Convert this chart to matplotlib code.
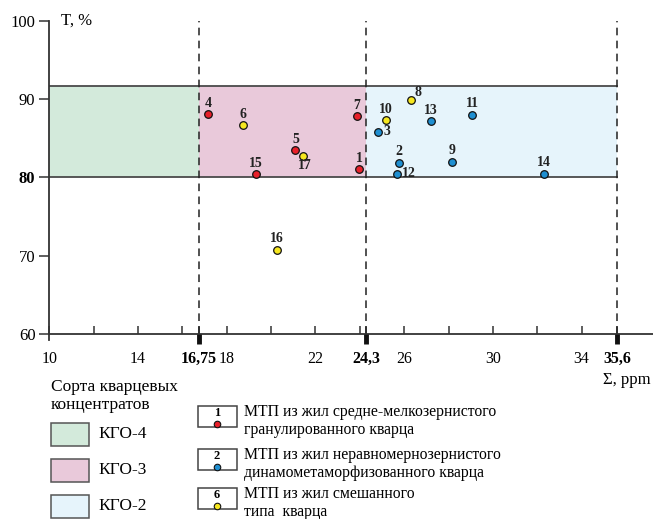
import matplotlib.pyplot as plt
from matplotlib.patches import Rectangle

plt.rcParams["font.family"] = ["Liberation Serif", "DejaVu Serif"]

# === Data ===
sample_ids = [1, 2, 3, 4, 5, 6, 7, 8, 9, 10, 11, 12, 13, 14, 15, 16, 17]
sum_ppm = [23.97, 25.76, 24.80, 17.15, 21.10, 18.75, 23.88, 26.32, 28.16, 25.18,
           29.08, 25.67, 27.20, 32.31, 19.30, 20.28, 21.45]
t_pct = [81.1, 81.9, 85.8, 88.1, 83.5, 86.7, 87.8, 89.9, 82.0, 87.3,
         88.0, 80.5, 87.2, 80.5, 80.4, 70.8, 82.8]
vein_type = ["r", "b", "b", "r", "r", "y", "r", "y", "b", "y",
             "b", "b", "b", "b", "r", "y", "y"]

# grade boundaries
bounds = [10, 16.75, 24.3, 35.6]
band_low, band_high = 80, 91.7
grade_names = ["КГО-4", "КГО-3", "КГО-2"]
grade_colors = ["#d3eadb", "#e9c9da", "#e6f4fb"]

type_colors = {"r": "#e8202a", "b": "#1f8fd1", "y": "#f6e71f"}
type_labels = [
    ("1", "r", "МТП из жил средне-мелкозернистого\nгранулированного кварца"),
    ("2", "b", "МТП из жил неравномернозернистого\nдинамометаморфизованного кварца"),
    ("6", "y", "МТП из жил смешанного\nтипа  кварца"),
]

# label offsets in points (dx, dy, ha)
label_pos = {3: (4, 0, "left"), 12: (4, 0, "left"), 17: (1, -7.5, "center"),
             8: (5, 5, "center")}

# === Figure ===
fig = plt.figure(figsize=(6.53, 5.19), dpi=100)
ax = fig.add_axes([0.0755, 0.3559, 0.9245, 0.6043])
ax.set_xlim(10, 37.22)
ax.set_ylim(60, 100)

for i in range(3):
    ax.add_patch(Rectangle((bounds[i], band_low), bounds[i + 1] - bounds[i],
                           band_high - band_low, facecolor=grade_colors[i],
                           edgecolor="none", zorder=0))
for yv in (band_low, band_high):
    ax.plot([bounds[0], bounds[-1]], [yv, yv], color="#4a4a4a", lw=1.3, zorder=1)
for xv in bounds[1:]:
    ax.axvline(xv, color="#222222", lw=1.1, ls=(0, (5, 3.5)), zorder=2)

for k, sid in enumerate(sample_ids):
    ax.scatter(sum_ppm[k], t_pct[k], s=30, color=type_colors[vein_type[k]],
               edgecolor="#111111", linewidth=0.9, zorder=4)
    dx, dy, ha = label_pos.get(sid, (0, 7.8, "center"))
    ax.annotate(str(sid), (sum_ppm[k], t_pct[k]), xytext=(dx, dy),
                textcoords="offset points", ha=ha, va="center",
                fontsize=10, fontweight="bold", color="#222222", zorder=5)

# axes styling
for side in ("top", "right"):
    ax.spines[side].set_visible(False)
for side in ("left", "bottom"):
    ax.spines[side].set_color("#333333")
    ax.spines[side].set_linewidth(1.3)

xt = list(range(10, 36, 2))
ax.set_xticks(xt + bounds[1:])
xlabels = [str(v) if (v - 10) % 4 == 0 else "" for v in xt]
xlabels += [str(b).replace(".", ",") for b in bounds[1:]]
ax.set_xticklabels(xlabels, fontsize=11.5)
ax.tick_params(axis="x", direction="in", length=6, width=1.1, color="#333333", pad=12)
for t in ax.get_xticklabels()[-3:]:
    t.set_fontweight("bold")
for xv in bounds[1:]:
    ax.plot([xv, xv], [60, 58.7], color="#111111", lw=3.5, clip_on=False, zorder=6,
            solid_capstyle="butt")
ax.plot([10, 10], [60, 59.3], color="#333333", lw=1.3, clip_on=False)

ax.set_yticks([60, 70, 80, 90, 100])
ax.set_yticklabels(["60", "70", "80", "90", "100"], fontsize=12)
ax.tick_params(axis="y", direction="out", length=7, width=1.1, color="#333333", pad=3)
ax.get_yticklabels()[2].set_fontweight("bold")

ax.text(10.55, 100, "T, %", fontsize=12, va="center", ha="left")

# === Legends (figure pixel coordinates) ===
lg = fig.add_axes([0, 0, 1, 1], zorder=-1)
lg.set_xlim(0, 653)
lg.set_ylim(519, 0)
lg.axis("off")

lg.text(651, 380, "Σ, ppm", fontsize=12, ha="right", va="center")
lg.text(51, 396, "Сорта кварцевых\nконцентратов", fontsize=12.5, ha="left",
        va="center", linespacing=1.2)
for i, yy in enumerate([423, 459, 495]):
    lg.add_patch(Rectangle((51, yy), 38, 22.5, facecolor=grade_colors[i],
                           edgecolor="#555555", lw=1.1))
    lg.text(98, yy + 11.5, grade_names[i], fontsize=12.5, ha="left", va="center")

for i, (num, code, txt) in enumerate(type_labels):
    top = [406, 449, 488][i]
    lg.add_patch(Rectangle((198, top), 39, 20.5, facecolor="white",
                           edgecolor="#444444", lw=1.1))
    lg.text(217, top + 7, num, fontsize=9, fontweight="bold", ha="center", va="center")
    lg.scatter(216.5, top + 17.5, s=22, color=type_colors[code], edgecolor="#111111",
               linewidth=0.8, zorder=3)
    lg.text(244, top + 15, txt, fontsize=11.3, ha="left", va="center", linespacing=1.2)

fig.savefig("out.png", dpi=100)
